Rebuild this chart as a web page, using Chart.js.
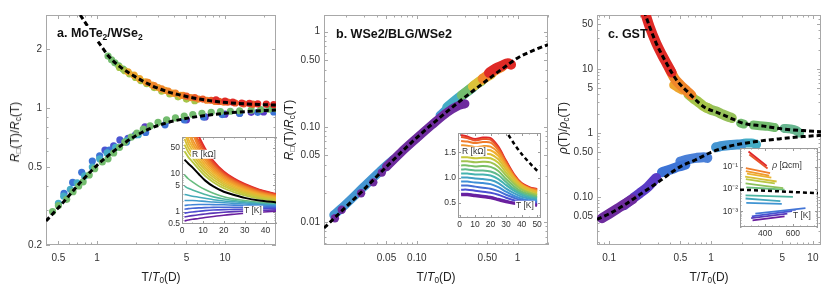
<!DOCTYPE html>
<html>
<head>
<meta charset="utf-8">
<script src="https://cdn.jsdelivr.net/npm/chart.js@4.4.1/dist/chart.umd.min.js"></script>
<style>
body { margin: 0; background: #fff; width: 830px; height: 297px; overflow: hidden; position: relative; font-family: "Liberation Sans", Arial, sans-serif; }
canvas { position: absolute; }
.t { position: absolute; white-space: nowrap; color: #222; line-height: 1; }
.lbl { font-weight: bold; font-size: 12.5px; color: #111; }
.bg { background: #fff; padding: 1px 2px; }
.xt { font-size: 12px; transform: translate(-50%, -50%); }
.yt { font-size: 12px; transform: translate(-50%, -50%) rotate(-90deg); }
.il { font-size: 8.5px; background: #fff; padding: 0 1px; transform: translate(-50%, -50%); color: #333; }
sub { font-size: 0.68em; vertical-align: -0.3em; line-height: 0; }
</style>
</head>
<body>
<canvas id="pa" width="280" height="297" style="left:0;top:0"></canvas>
<canvas id="pb" width="275" height="297" style="left:280px;top:0"></canvas>
<canvas id="pc" width="275" height="297" style="left:555px;top:0"></canvas>
<canvas id="ia" width="120" height="110" style="left:160px;top:130px"></canvas>
<canvas id="ib" width="112" height="108" style="left:436px;top:126px"></canvas>
<canvas id="ic" width="112" height="102" style="left:712px;top:141px"></canvas>

<div class="t lbl bg" style="left:55px;top:26px">a. MoTe<sub>2</sub>/WSe<sub>2</sub></div>
<div class="t lbl" style="left:336px;top:28px">b. WSe2/BLG/WSe2</div>
<div class="t lbl" style="left:608px;top:28px">c. GST</div>

<div class="t xt" style="left:161px;top:277px">T/<i>T</i><sub>0</sub>(D)</div>
<div class="t xt" style="left:436px;top:277px">T/<i>T</i><sub>0</sub>(D)</div>
<div class="t xt" style="left:709px;top:277px">T/<i>T</i><sub>0</sub>(D)</div>

<div class="t yt" style="left:15px;top:132px"><i>R</i><sub>□</sub>(T)/<i>R</i><sub>c</sub>(T)</div>
<div class="t yt" style="left:289px;top:130px"><i>R</i><sub>□</sub>(T)/<i>R</i><sub>c</sub>(T)</div>
<div class="t yt" style="left:563px;top:128px"><i>ρ</i>(T)/<i>ρ</i><sub>c</sub>(T)</div>

<div class="t il" style="left:204px;top:154px">R [kΩ]</div>
<div class="t il" style="left:253px;top:210px">T [K]</div>
<div class="t il" style="left:474px;top:151px">R [kΩ]</div>
<div class="t il" style="left:525px;top:205px">T [K]</div>
<div class="t il" style="left:787px;top:165px"><i>ρ</i> [Ωcm]</div>
<div class="t il" style="left:802px;top:215px">T [K]</div>

<script>
// ---------- a. MoTe2/WSe2 ----------
const aFitUpX = [0.74, 0.85, 1.0, 1.12, 1.23, 1.5, 2, 2.75, 3.5, 4.45, 5.66, 7.6, 10.3, 14, 20, 25];
const aFitUpY = [2.98, 2.6, 2.22, 2.0, 1.84, 1.63, 1.44, 1.29, 1.215, 1.165, 1.125, 1.09, 1.065, 1.05, 1.04, 1.035];
const aFitLoX = [0.4, 0.5, 0.6, 0.75, 1, 1.3, 1.6, 2, 2.6, 3.5, 5, 7, 10, 15, 25];
const aFitLoY = [0.265, 0.31, 0.355, 0.42, 0.51, 0.59, 0.655, 0.72, 0.785, 0.84, 0.885, 0.915, 0.94, 0.96, 0.977];

const aUpGreenX = [1.22, 1.3, 1.38, 1.48, 1.6];
const aUpGreenY = [1.84, 1.76, 1.70, 1.64, 1.58];
const aUpLimeX = [1.5, 1.65, 1.8, 2.0, 2.2, 2.45, 2.8, 3.2, 3.7, 4.3, 5.0, 5.8];
const aUpLimeY = [1.61, 1.55, 1.49, 1.43, 1.38, 1.33, 1.27, 1.22, 1.18, 1.14, 1.11, 1.09];
const aUpYellowX = [1.75, 1.95, 2.15, 2.4, 2.7, 3.0, 3.4, 3.9, 4.5];
const aUpYellowY = [1.53, 1.47, 1.41, 1.36, 1.31, 1.27, 1.23, 1.19, 1.16];
const aUpOrangeX = [2.5, 2.8, 3.2, 3.6, 4.1, 4.7, 5.4, 6.2, 7.2, 8.4, 9.8];
const aUpOrangeY = [1.35, 1.3, 1.25, 1.22, 1.19, 1.16, 1.13, 1.11, 1.095, 1.08, 1.07];
const aUpRedOrX = [5.0, 5.8, 6.7, 7.8, 9, 10.5, 12, 14, 16.5];
const aUpRedOrY = [1.15, 1.13, 1.11, 1.095, 1.08, 1.07, 1.06, 1.05, 1.045];
const aUpRedX = [8.5, 10, 11.5, 13.5, 15.5, 18, 21, 24, 26];
const aUpRedY = [1.1, 1.085, 1.07, 1.06, 1.055, 1.05, 1.045, 1.04, 1.04];

const aLoGreenX = [0.45, 0.5, 0.58, 0.65, 0.72, 0.78, 0.87, 0.96, 1.1, 1.22, 1.35, 1.5, 1.65, 1.85, 2.05, 2.3, 2.6, 3.0, 3.5, 4.1, 4.8, 5.6, 6.6, 7.8, 9.2, 11, 13, 16, 19, 22, 25];
const aLoGreenY = [0.296, 0.318, 0.342, 0.374, 0.4, 0.42, 0.455, 0.49, 0.53, 0.55, 0.59, 0.63, 0.67, 0.71, 0.745, 0.78, 0.81, 0.845, 0.87, 0.89, 0.91, 0.925, 0.94, 0.95, 0.958, 0.962, 0.968, 0.974, 0.98, 0.985, 0.99];
const aLoTealX = [0.5, 0.55, 0.62, 0.7, 0.8, 0.92, 1.05, 1.2, 1.4, 1.7, 2.1];
const aLoTealY = [0.326, 0.355, 0.385, 0.415, 0.45, 0.5, 0.55, 0.59, 0.63, 0.68, 0.73];
const aLoBlueX = [0.553, 0.646, 0.76, 0.92, 1.05, 1.25, 1.7, 2.4, 3.4, 4.8, 6.8, 9.5, 13, 18, 24];
const aLoBlueY = [0.367, 0.417, 0.47, 0.536, 0.57, 0.61, 0.67, 0.75, 0.82, 0.87, 0.9, 0.925, 0.94, 0.95, 0.955];
const aLoIndigoX = [1.155, 1.35, 1.51, 1.75, 2.0];
const aLoIndigoY = [0.61, 0.64, 0.687, 0.7, 0.73];
const aLoPurpleX = [2.37, 3.5, 5, 7, 10, 13, 16, 20, 25];
const aLoPurpleY = [0.8, 0.86, 0.87, 0.9, 0.93, 0.94, 0.95, 0.955, 0.96];

const aXTicks = [0.5, 1, 5, 10];
const aXLabels = ['0.5', '1', '5', '10'];
const aYTicks = [0.2, 0.5, 1, 2];
const aYLabels = ['0.2', '0.5', '1', '2'];

// inset a: R(T) curves below the black one (bottom to top) and above it
const insetATemps = [1.2, 3, 5, 8, 11, 15, 20, 25, 30, 37, 45];
const insetABelow = [
  [0.58, 0.61, 0.64, 0.67, 0.71, 0.76, 0.82, 0.87, 0.92, 0.98, 1.05],
  [0.74, 0.77, 0.8, 0.84, 0.88, 0.93, 0.98, 1.02, 1.05, 1.09, 1.13],
  [0.93, 0.97, 1.0, 1.04, 1.08, 1.12, 1.15, 1.17, 1.19, 1.2, 1.22],
  [1.18, 1.22, 1.25, 1.28, 1.3, 1.32, 1.33, 1.33, 1.33, 1.32, 1.31],
  [1.48, 1.52, 1.55, 1.57, 1.57, 1.56, 1.54, 1.51, 1.48, 1.44, 1.4],
  [2.0, 2.0, 2.0, 1.95, 1.9, 1.82, 1.75, 1.68, 1.62, 1.54, 1.47],
  [2.9, 2.75, 2.6, 2.45, 2.3, 2.1, 1.95, 1.85, 1.75, 1.62, 1.52],
  [4.8, 4.2, 3.8, 3.3, 2.9, 2.5, 2.2, 2.0, 1.85, 1.7, 1.58],
  [9.5, 7.5, 6.2, 4.8, 3.9, 3.1, 2.5, 2.2, 2.0, 1.8, 1.65]
];
const insetABlack = [24, 19, 15, 10, 6.8, 4.7, 3.4, 2.8, 2.35, 2.0, 1.78];
const insetAAbove = [
  [40, 28, 21, 13.5, 9.0, 6.1, 4.2, 3.3, 2.75, 2.25, 1.92],
  [60, 38, 27, 16.5, 10.8, 7.1, 4.8, 3.7, 3.0, 2.4, 2.02],
  [85, 50, 34, 20, 12.8, 8.2, 5.4, 4.0, 3.25, 2.55, 2.12],
  [140, 65, 42, 24, 15, 9.4, 6.0, 4.4, 3.5, 2.7, 2.22],
  [180, 85, 52, 29, 17.5, 10.7, 6.7, 4.8, 3.75, 2.85, 2.32],
  [null, 130, 65, 35, 20.5, 12, 7.4, 5.2, 4.0, 3.0, 2.42],
  [null, 160, 82, 42, 24, 13.5, 8.1, 5.6, 4.25, 3.15, 2.52],
  [null, null, 120, 50, 28, 15, 8.8, 6.0, 4.5, 3.3, 2.62],
  [null, null, 150, 60, 32, 16.7, 9.5, 6.4, 4.75, 3.45, 2.72],
  [null, null, 180, 72, 37, 18.5, 10.2, 6.8, 5.0, 3.6, 2.82],
  [null, null, null, 86, 42, 20.5, 11, 7.2, 5.25, 3.75, 2.92],
  [null, null, null, 100, 48, 22.5, 11.8, 7.6, 5.5, 3.9, 3.0]
];
const insetAXTicks = [0, 10, 20, 30, 40];
const insetAYTicks = [0.5, 1, 5, 10, 50];

// ---------- b. WSe2/BLG/WSe2 ----------
const bFitX = [0.012, 0.02, 0.03, 0.05, 0.1, 0.2, 0.3, 0.5, 0.8, 1.0, 1.5, 2.0];
const bFitY = [0.0086, 0.0145, 0.022, 0.038, 0.077, 0.145, 0.205, 0.31, 0.45, 0.53, 0.65, 0.73];
const bBlueX = [0.015, 0.02, 0.03, 0.042, 0.058];
const bBlueY = [0.0118, 0.0155, 0.0235, 0.033, 0.045];
const bBlueTopX = [0.17, 0.21, 0.25, 0.28];
const bBlueTopY = [0.132, 0.162, 0.19, 0.212];
const bCyanX = [0.2, 0.25, 0.3, 0.36];
const bCyanY = [0.16, 0.195, 0.225, 0.26];
const bGreenX = [0.28, 0.33, 0.38, 0.44];
const bGreenY = [0.215, 0.245, 0.275, 0.305];
const bYellowX = [0.36, 0.42, 0.48, 0.55];
const bYellowY = [0.265, 0.3, 0.33, 0.36];
const bOrangeX = [0.45, 0.53, 0.62, 0.7];
const bOrangeY = [0.32, 0.36, 0.4, 0.43];
const bRedX = [0.52, 0.6, 0.7, 0.8, 0.86];
const bRedY = [0.37, 0.41, 0.44, 0.465, 0.45];
const bPurpleX = [0.05, 0.07, 0.1, 0.14, 0.2, 0.25, 0.3];
const bPurpleY = [0.038, 0.054, 0.076, 0.104, 0.142, 0.164, 0.175];
const bPurpleDotX = [0.0154, 0.018, 0.028, 0.037, 0.045];
const bPurpleDotY = [0.0109, 0.0134, 0.02, 0.026, 0.033];

const bXTicks = [0.05, 0.1, 0.5, 1];
const bXLabels = ['0.05', '0.10', '0.50', '1'];
const bYTicks = [0.01, 0.05, 0.1, 0.5, 1];
const bYLabels = ['0.01', '0.05', '0.10', '0.50', '1'];

// inset b: R(T) curves, bottom to top
const insetBTemps = [1, 5, 10, 15, 20, 25, 30, 35, 40, 45, 50];
const insetBCurves = [
  [0.66, 0.66, 0.64, 0.62, 0.60, 0.56, 0.52, 0.49, 0.47, 0.46, 0.45],
  [0.68, 0.68, 0.66, 0.64, 0.62, 0.58, 0.54, 0.50, 0.48, 0.47, 0.46],
  [0.76, 0.76, 0.74, 0.72, 0.70, 0.66, 0.60, 0.55, 0.52, 0.50, 0.48],
  [0.84, 0.84, 0.82, 0.80, 0.78, 0.73, 0.66, 0.60, 0.55, 0.53, 0.51],
  [0.92, 0.92, 0.90, 0.89, 0.87, 0.81, 0.72, 0.64, 0.58, 0.55, 0.53],
  [1.00, 1.00, 0.98, 0.97, 0.95, 0.89, 0.78, 0.69, 0.62, 0.58, 0.55],
  [1.08, 1.08, 1.06, 1.06, 1.04, 0.97, 0.85, 0.74, 0.66, 0.61, 0.58],
  [1.16, 1.16, 1.14, 1.14, 1.12, 1.05, 0.91, 0.78, 0.69, 0.64, 0.60],
  [1.24, 1.24, 1.22, 1.23, 1.21, 1.13, 0.97, 0.83, 0.72, 0.67, 0.62],
  [1.32, 1.32, 1.30, 1.31, 1.30, 1.21, 1.04, 0.88, 0.76, 0.70, 0.65],
  [1.40, 1.40, 1.38, 1.39, 1.38, 1.29, 1.10, 0.92, 0.79, 0.72, 0.67],
  [1.48, 1.47, 1.45, 1.47, 1.46, 1.36, 1.16, 0.97, 0.82, 0.75, 0.70],
  [1.56, 1.55, 1.53, 1.55, 1.54, 1.43, 1.21, 1.00, 0.85, 0.77, 0.72],
  [1.64, 1.63, 1.60, 1.62, 1.61, 1.49, 1.25, 1.02, 0.86, 0.78, 0.73],
  [1.72, 1.71, 1.68, 1.70, 1.69, 1.54, 1.28, 1.04, 0.87, 0.79, 0.75],
  [1.80, 1.78, 1.73, 1.76, 1.75, 1.58, 1.31, 1.05, 0.88, 0.80, 0.76],
  [1.84, 1.81, 1.76, 1.79, 1.78, 1.61, 1.33, 1.07, 0.89, 0.81, 0.77]
];
const insetBFitT = [31.5, 36, 41, 46, 50.5];
const insetBFitR = [1.84, 1.63, 1.43, 1.26, 1.12];
const insetBXTicks = [0, 10, 20, 30, 40, 50];
const insetBYTicks = [0.5, 1.0, 1.5];

// ---------- c. GST ----------
const cFitUpX = [0.22, 0.25, 0.29, 0.33, 0.37, 0.41, 0.48, 0.58, 0.72, 0.87, 1.14, 1.53, 2.07, 3.3, 5, 8, 12];
const cFitUpY = [80, 45, 25, 16.5, 11.8, 8.8, 6.1, 4.5, 3.2, 2.5, 2.1, 1.73, 1.42, 1.28, 1.16, 1.09, 1.05];
const cFitLoX = [0.076, 0.1, 0.14, 0.2, 0.3, 0.5, 0.7, 1.0, 1.5, 2, 3, 5, 8, 12];
const cFitLoY = [0.045, 0.055, 0.075, 0.11, 0.17, 0.3, 0.38, 0.5, 0.62, 0.68, 0.75, 0.82, 0.88, 0.92];

const cRedX = [0.225, 0.25, 0.29, 0.33, 0.37, 0.41];
const cRedY = [75, 45, 25, 16.5, 11.8, 8.8];
const cOrangeX = [0.39, 0.44, 0.5, 0.58, 0.64];
const cOrangeY = [10, 7.0, 5.6, 4.5, 3.9];
const cOrange2X = [0.43, 0.47, 0.52];
const cOrange2Y = [5.6, 5.1, 4.7];
const cYellowX = [0.6, 0.68, 0.76, 0.85, 0.92];
const cYellowY = [4.0, 3.4, 3.0, 2.6, 2.45];
const cLimeX = [0.9, 1.0, 1.14, 1.3, 1.5, 1.6];
const cLimeY = [2.5, 2.3, 2.15, 1.95, 1.78, 1.72];
const cGreenDotX = [1.95, 2.1];
const cGreenDotY = [1.42, 1.38];
const cGreenX = [2.6, 3.0, 3.6, 4.2];
const cGreenY = [1.33, 1.3, 1.27, 1.22];
const cTealUpX = [5.2, 6.0, 6.8, 7.4];
const cTealUpY = [1.18, 1.16, 1.1, 1.0];

const cPurpleX = [0.085, 0.1, 0.12, 0.145, 0.17];
const cPurpleY = [0.047, 0.055, 0.066, 0.08, 0.093];
const cVioletX = [0.14, 0.17, 0.2, 0.24, 0.29];
const cVioletY = [0.075, 0.095, 0.115, 0.145, 0.2];
const cBlueX = [0.33, 0.4, 0.48, 0.56];
const cBlueY = [0.245, 0.27, 0.3, 0.32];
const cBlue2X = [0.5, 0.6, 0.72, 0.85, 0.92];
const cBlue2Y = [0.36, 0.39, 0.41, 0.42, 0.41];
const cAzureX = [1.12, 1.3, 1.55, 1.8, 2.0];
const cAzureY = [0.6, 0.63, 0.65, 0.66, 0.66];
const cTealX = [1.9, 2.2, 2.5, 2.8];
const cTealY = [0.66, 0.7, 0.7, 0.66];

const cXTicks = [0.1, 0.5, 1, 5, 10];
const cXLabels = ['0.1', '0.5', '1', '5', '10'];
const cYTicks = [0.05, 0.1, 0.5, 1, 5, 10, 50];
const cYLabels = ['0.05', '0.10', '0.50', '1', '5', '10', '50'];

// inset c: rho(T) segments [T1, rho1, T2, rho2], top to bottom
const insetCSegments = [
  [281, 0.485, 412, 0.11],
  [287, 0.36, 418, 0.085],
  [262, 0.087, 436, 0.052],
  [262, 0.065, 430, 0.04],
  [270, 0.05, 445, 0.033],
  [257, 0.036, 483, 0.022],
  [262, 0.028, 470, 0.018],
  [260, 0.018, 530, 0.011],
  [265, 0.012, 540, 0.0095],
  [260, 0.0052, 600, 0.0045],
  [260, 0.0038, 510, 0.0029],
  [265, 0.0024, 520, 0.0022],
  [330, 0.0008, 690, 0.0014],
  [305, 0.0006, 620, 0.0011],
  [300, 0.0005, 560, 0.0008],
  [310, 0.0004, 540, 0.0006]
];
const insetCFitT = [220, 400, 600, 780];
const insetCFitR = [0.0095, 0.0085, 0.0074, 0.0066];
const insetCXTicks = [400, 600];
const insetCYTicks = [0.001, 0.01, 0.1];
const insetCYLabels = ['10⁻³', '10⁻²', '10⁻¹'];

// ---------- styling helpers ----------
const FONT = '"Liberation Sans", Arial, sans-serif';
const col = {
  purple: '#6e2c9e', violet: '#5a3cc6', indigo: '#4b55d2', blue: '#3d74d6', azure: '#4596d2',
  cyan: '#45adc6', teal: '#52b5a2', green: '#73bc6e', lime: '#a6c449', yellow: '#dcc23a',
  amber: '#eea62e', orange: '#f0862a', redor: '#ec5a27', red: '#df2a26'
};
const rainbowStops = ['#6a1f9e', '#4a4fd2', '#3f8fd8', '#45b3b0', '#78c068', '#c8c83a', '#f0b030', '#f07a2a', '#e0282a'];
function rainbow(t) {
  const n = rainbowStops.length - 1;
  const k = Math.min(n - 1, Math.floor(t * n));
  const f = t * n - k;
  const a = rainbowStops[k], b = rainbowStops[k + 1];
  const c = i => Math.round(parseInt(a.substr(i, 2), 16) * (1 - f) + parseInt(b.substr(i, 2), 16) * f);
  return `rgb(${c(1)},${c(3)},${c(5)})`;
}

const pts = (xs, ys) => xs.map((x, i) => ({ x, y: ys[i] }));
const dots = (xs, ys, color, r) => ({ data: pts(xs, ys), backgroundColor: color, borderWidth: 0, pointRadius: r, showLine: false });
const band = (xs, ys, color, w) => ({ data: pts(xs, ys), borderColor: color, borderWidth: w, pointRadius: 0, showLine: true,
  borderCapStyle: 'round', borderJoinStyle: 'round', cubicInterpolationMode: 'monotone' });
const fit = (xs, ys, w, dash) => ({ data: pts(xs, ys), borderColor: '#000', borderWidth: w, borderDash: dash, pointRadius: 0,
  showLine: true, cubicInterpolationMode: 'monotone' });
const curve = (xs, ys, color, w) => ({ data: pts(xs, ys), borderColor: color, borderWidth: w, pointRadius: 0, showLine: true,
  tension: 0.3 });

function logMinor(min, max) {
  const out = [];
  for (let e = Math.floor(Math.log10(min)); e <= Math.ceil(Math.log10(max)); e++) {
    for (let m = 1; m < 10; m++) {
      const v = m * Math.pow(10, e);
      if (v >= min && v <= max) out.push(v);
    }
  }
  return out;
}

// frame + inward ticks on all four sides, Mathematica style
const framePlugin = {
  id: 'frame',
  beforeDatasetsDraw(chart, args, o) {
    const { ctx, chartArea: a, scales } = chart;
    ctx.save();
    if (o.fill) { ctx.fillStyle = '#fff'; ctx.fillRect(a.left, a.top, a.right - a.left, a.bottom - a.top); }
    ctx.strokeStyle = o.color;
    ctx.lineWidth = 1;
    ctx.strokeRect(a.left + 0.5, a.top + 0.5, a.right - a.left - 1, a.bottom - a.top - 1);
    const marks = (s, vals, len) => vals.forEach(v => {
      const p = Math.round(s.getPixelForValue(v)) + 0.5;
      ctx.beginPath();
      if (s.axis === 'x') {
        ctx.moveTo(p, a.bottom); ctx.lineTo(p, a.bottom - len);
        ctx.moveTo(p, a.top); ctx.lineTo(p, a.top + len);
      } else {
        ctx.moveTo(a.left, p); ctx.lineTo(a.left + len, p);
        ctx.moveTo(a.right, p); ctx.lineTo(a.right - len, p);
      }
      ctx.stroke();
    });
    ['x', 'y'].forEach(k => {
      const s = scales[k];
      const major = s.ticks.map(t => t.value);
      let minor = o[k + 'Minor'] || (s.type === 'logarithmic' ? logMinor(s.min, s.max) : []);
      minor = minor.filter(v => !major.some(m => Math.abs(m - v) < 1e-6 * Math.abs(v)));
      marks(s, minor, o.minor);
      marks(s, major, o.major);
    });
    ctx.restore();
  }
};

function axis(type, range, ticks, labels, size, dir, fontSize, pad) {
  return {
    type, min: range[0], max: range[1],
    afterBuildTicks: s => { s.ticks = ticks.map(v => ({ value: v })); },
    ticks: { callback: (v, i) => labels[i], autoSkip: false, maxRotation: 0, minRotation: 0, color: '#333',
      padding: pad, font: { family: FONT, size: fontSize } },
    grid: { display: false, drawTicks: false },
    border: { display: false },
    afterFit: s => {
      if (dir === 'x') s.height = size; else s.width = size;
      s.paddingLeft = s.paddingRight = s.paddingTop = s.paddingBottom = 0;
    }
  };
}

function makeChart(id, g, datasets, frame) {
  return new Chart(document.getElementById(id), {
    type: 'scatter',
    data: { datasets },
    options: {
      responsive: false, animation: false, devicePixelRatio: 1,
      layout: { padding: { top: g.top, right: g.right, left: 0, bottom: 0 } },
      plugins: { legend: { display: false }, tooltip: { enabled: false }, frame },
      scales: { x: g.x, y: g.y }
    },
    plugins: [framePlugin]
  });
}

const mainFrame = { color: '#a8a8a8', major: 4, minor: 2.5 };
const insetFrame = { color: '#9a9a9a', major: 3, minor: 1.5, fill: true };
const strLabels = arr => arr.map(v => String(v));

// ---------- panel a ----------
makeChart('pa', {
  top: 15, right: 4,
  x: axis('logarithmic', [0.4, 25], aXTicks, aXLabels, 52, 'x', 10, 7),
  y: axis('logarithmic', [0.2, 2.98], aYTicks, aYLabels, 46, 'y', 10, 4)
}, [
  fit(aFitUpX, aFitUpY, 3, [5, 3]),
  fit(aFitLoX, aFitLoY, 3, [5, 3]),
  dots(aUpRedX, aUpRedY, col.red, 3.6),
  dots(aUpRedOrX, aUpRedOrY, col.redor, 3.6),
  dots(aUpOrangeX, aUpOrangeY, col.orange, 3.6),
  dots(aUpYellowX, aUpYellowY, col.amber, 3.6),
  dots(aUpLimeX, aUpLimeY, col.lime, 3.6),
  dots(aUpGreenX, aUpGreenY, col.green, 3.6),
  dots(aLoGreenX, aLoGreenY, col.green, 3.6),
  dots(aLoTealX, aLoTealY, col.cyan, 3.6),
  dots(aLoBlueX, aLoBlueY, col.blue, 3.6),
  dots(aLoIndigoX, aLoIndigoY, col.indigo, 3.6),
  dots(aLoPurpleX, aLoPurpleY, col.violet, 3.6)
], mainFrame);

// ---------- panel b ----------
makeChart('pb', {
  top: 15, right: 7,
  x: axis('logarithmic', [0.012, 2.0], bXTicks, bXLabels, 52, 'x', 10, 7),
  y: axis('logarithmic', [0.0057, 1.5], bYTicks, bYLabels, 44, 'y', 10, 4)
}, [
  fit(bFitX, bFitY, 3, [5, 3]),
  dots(bPurpleDotX, bPurpleDotY, col.purple, 4.2),
  band(bPurpleX, bPurpleY, col.purple, 9),
  band(bRedX, bRedY, col.red, 10),
  band(bOrangeX, bOrangeY, col.orange, 10),
  band(bYellowX, bYellowY, col.yellow, 10),
  band(bGreenX, bGreenY, col.green, 10),
  band(bCyanX, bCyanY, col.cyan, 10),
  band(bBlueTopX, bBlueTopY, col.azure, 9),
  band(bBlueX, bBlueY, col.azure, 9)
], mainFrame);

// ---------- panel c ----------
makeChart('pc', {
  top: 15, right: 9,
  x: axis('logarithmic', [0.076, 12], cXTicks, cXLabels, 52, 'x', 10, 7),
  y: axis('logarithmic', [0.018, 69], cYTicks, cYLabels, 42, 'y', 10, 4)
}, [
  fit(cFitUpX, cFitUpY, 3, [5, 3]),
  fit(cFitLoX, cFitLoY, 3, [5, 3]),
  band(cRedX, cRedY, col.red, 10),
  band(cOrangeX, cOrangeY, col.orange, 10),
  band(cOrange2X, cOrange2Y, col.amber, 9),
  band(cYellowX, cYellowY, col.lime, 10),
  band(cLimeX, cLimeY, '#96c15a', 10),
  band(cGreenDotX, cGreenDotY, col.green, 9),
  band(cGreenX, cGreenY, col.green, 9),
  band(cTealUpX, cTealUpY, '#68b690', 9),
  band(cPurpleX, cPurpleY, col.purple, 10),
  band(cVioletX, cVioletY, col.violet, 10),
  band(cBlueX, cBlueY, col.blue, 10),
  band(cBlue2X, cBlue2Y, '#4a80d8', 10),
  band(cAzureX, cAzureY, col.azure, 10),
  band(cTealX, cTealY, col.cyan, 9)
], mainFrame);

// ---------- inset a ----------
const iaSets = [curve(insetATemps, insetABlack, '#000', 2)];
insetABelow.forEach((c, i) => iaSets.push(curve(insetATemps, c, rainbow(0.46 * i / (insetABelow.length - 1)), 1.6)));
insetAAbove.forEach((c, i) => iaSets.push(curve(insetATemps, c, rainbow(0.6 + 0.4 * i / (insetAAbove.length - 1)), 1.8)));
makeChart('ia', {
  top: 7, right: 4,
  x: axis('linear', [0, 45], insetAXTicks, strLabels(insetAXTicks), 16, 'x', 8.5, 2),
  y: axis('logarithmic', [0.48, 95], insetAYTicks, strLabels(insetAYTicks), 22, 'y', 8.5, 2)
}, iaSets, Object.assign({ xMinor: [5, 15, 25, 35, 45] }, insetFrame));

// ---------- inset b ----------
const ibSets = [fit(insetBFitT, insetBFitR, 2.5, [4, 3])];
insetBCurves.forEach((c, i) => ibSets.push(curve(insetBTemps, c, rainbow(i / (insetBCurves.length - 1)), i === 0 ? 3 : 2)));
makeChart('ib', {
  top: 7, right: 7,
  x: axis('linear', [-1, 52.5], insetBXTicks, strLabels(insetBXTicks), 16, 'x', 8.5, 2),
  y: axis('linear', [0.2, 1.88], insetBYTicks, ['0.5', '1.0', '1.5'], 22, 'y', 8.5, 2)
}, ibSets, Object.assign({ xMinor: [5, 15, 25, 35, 45] , yMinor: [0.25, 0.75, 1.25, 1.75] }, insetFrame));

// ---------- inset c ----------
const icSets = [fit(insetCFitT, insetCFitR, 2.5, [4, 3])];
insetCSegments.forEach((s, i) => icSets.push(curve([s[0], s[2]], [s[1], s[3]],
  rainbow(1 - i / (insetCSegments.length - 1)), 1.8)));
makeChart('ic', {
  top: 7, right: 6,
  x: axis('linear', [220, 780], insetCXTicks, strLabels(insetCXTicks), 16, 'x', 8.5, 2),
  y: axis('logarithmic', [0.0002, 0.7], insetCYTicks, insetCYLabels, 28, 'y', 8.5, 2)
}, icSets, Object.assign({ xMinor: [250, 300, 350, 450, 500, 550, 650, 700, 750] }, insetFrame));
</script>
</body>
</html>
